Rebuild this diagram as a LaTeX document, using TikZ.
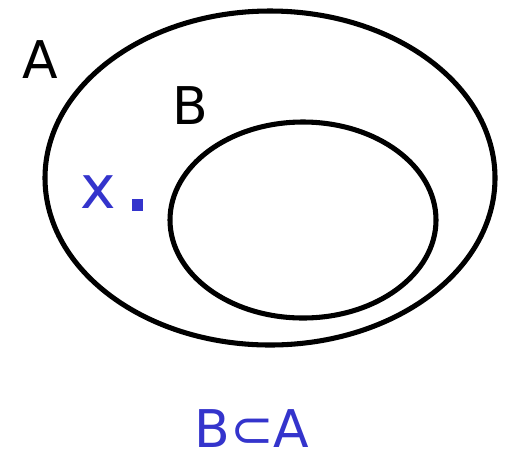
\documentclass[tikz,border=0pt]{standalone}
\usepackage{fontspec}
\setmainfont{DejaVu Sans}
\definecolor{setblue}{RGB}{52,52,204}
\begin{document}
\begin{tikzpicture}[x=0.75pt, y=-0.75pt,
    set/.style={draw=black, line width=3.8pt},
    lbl/.style={font=\fontsize{39}{39}\selectfont, inner sep=0pt, anchor=base},
    pt/.style={fill=setblue}
]
\useasboundingbox (0,0) rectangle (506,455);
% Sets A and B
\draw[set] (270,178) ellipse [x radius=225, y radius=167];
\draw[set] (303,220) ellipse [x radius=133, y radius=98];
% Set names
\node[lbl] (nameA) at (40,78) {A};
\node[lbl] (nameB) at (190,124) {B};
% Element x
\node[lbl, text=setblue, font=\fontsize{45}{45}\selectfont] (elemx) at (98,208) {x};
\fill[pt] (132,199) rectangle (143,211);
% Relation
\node[lbl, text=setblue] (rel) at (252,447) {B⊂A};
\end{tikzpicture}
\end{document}
